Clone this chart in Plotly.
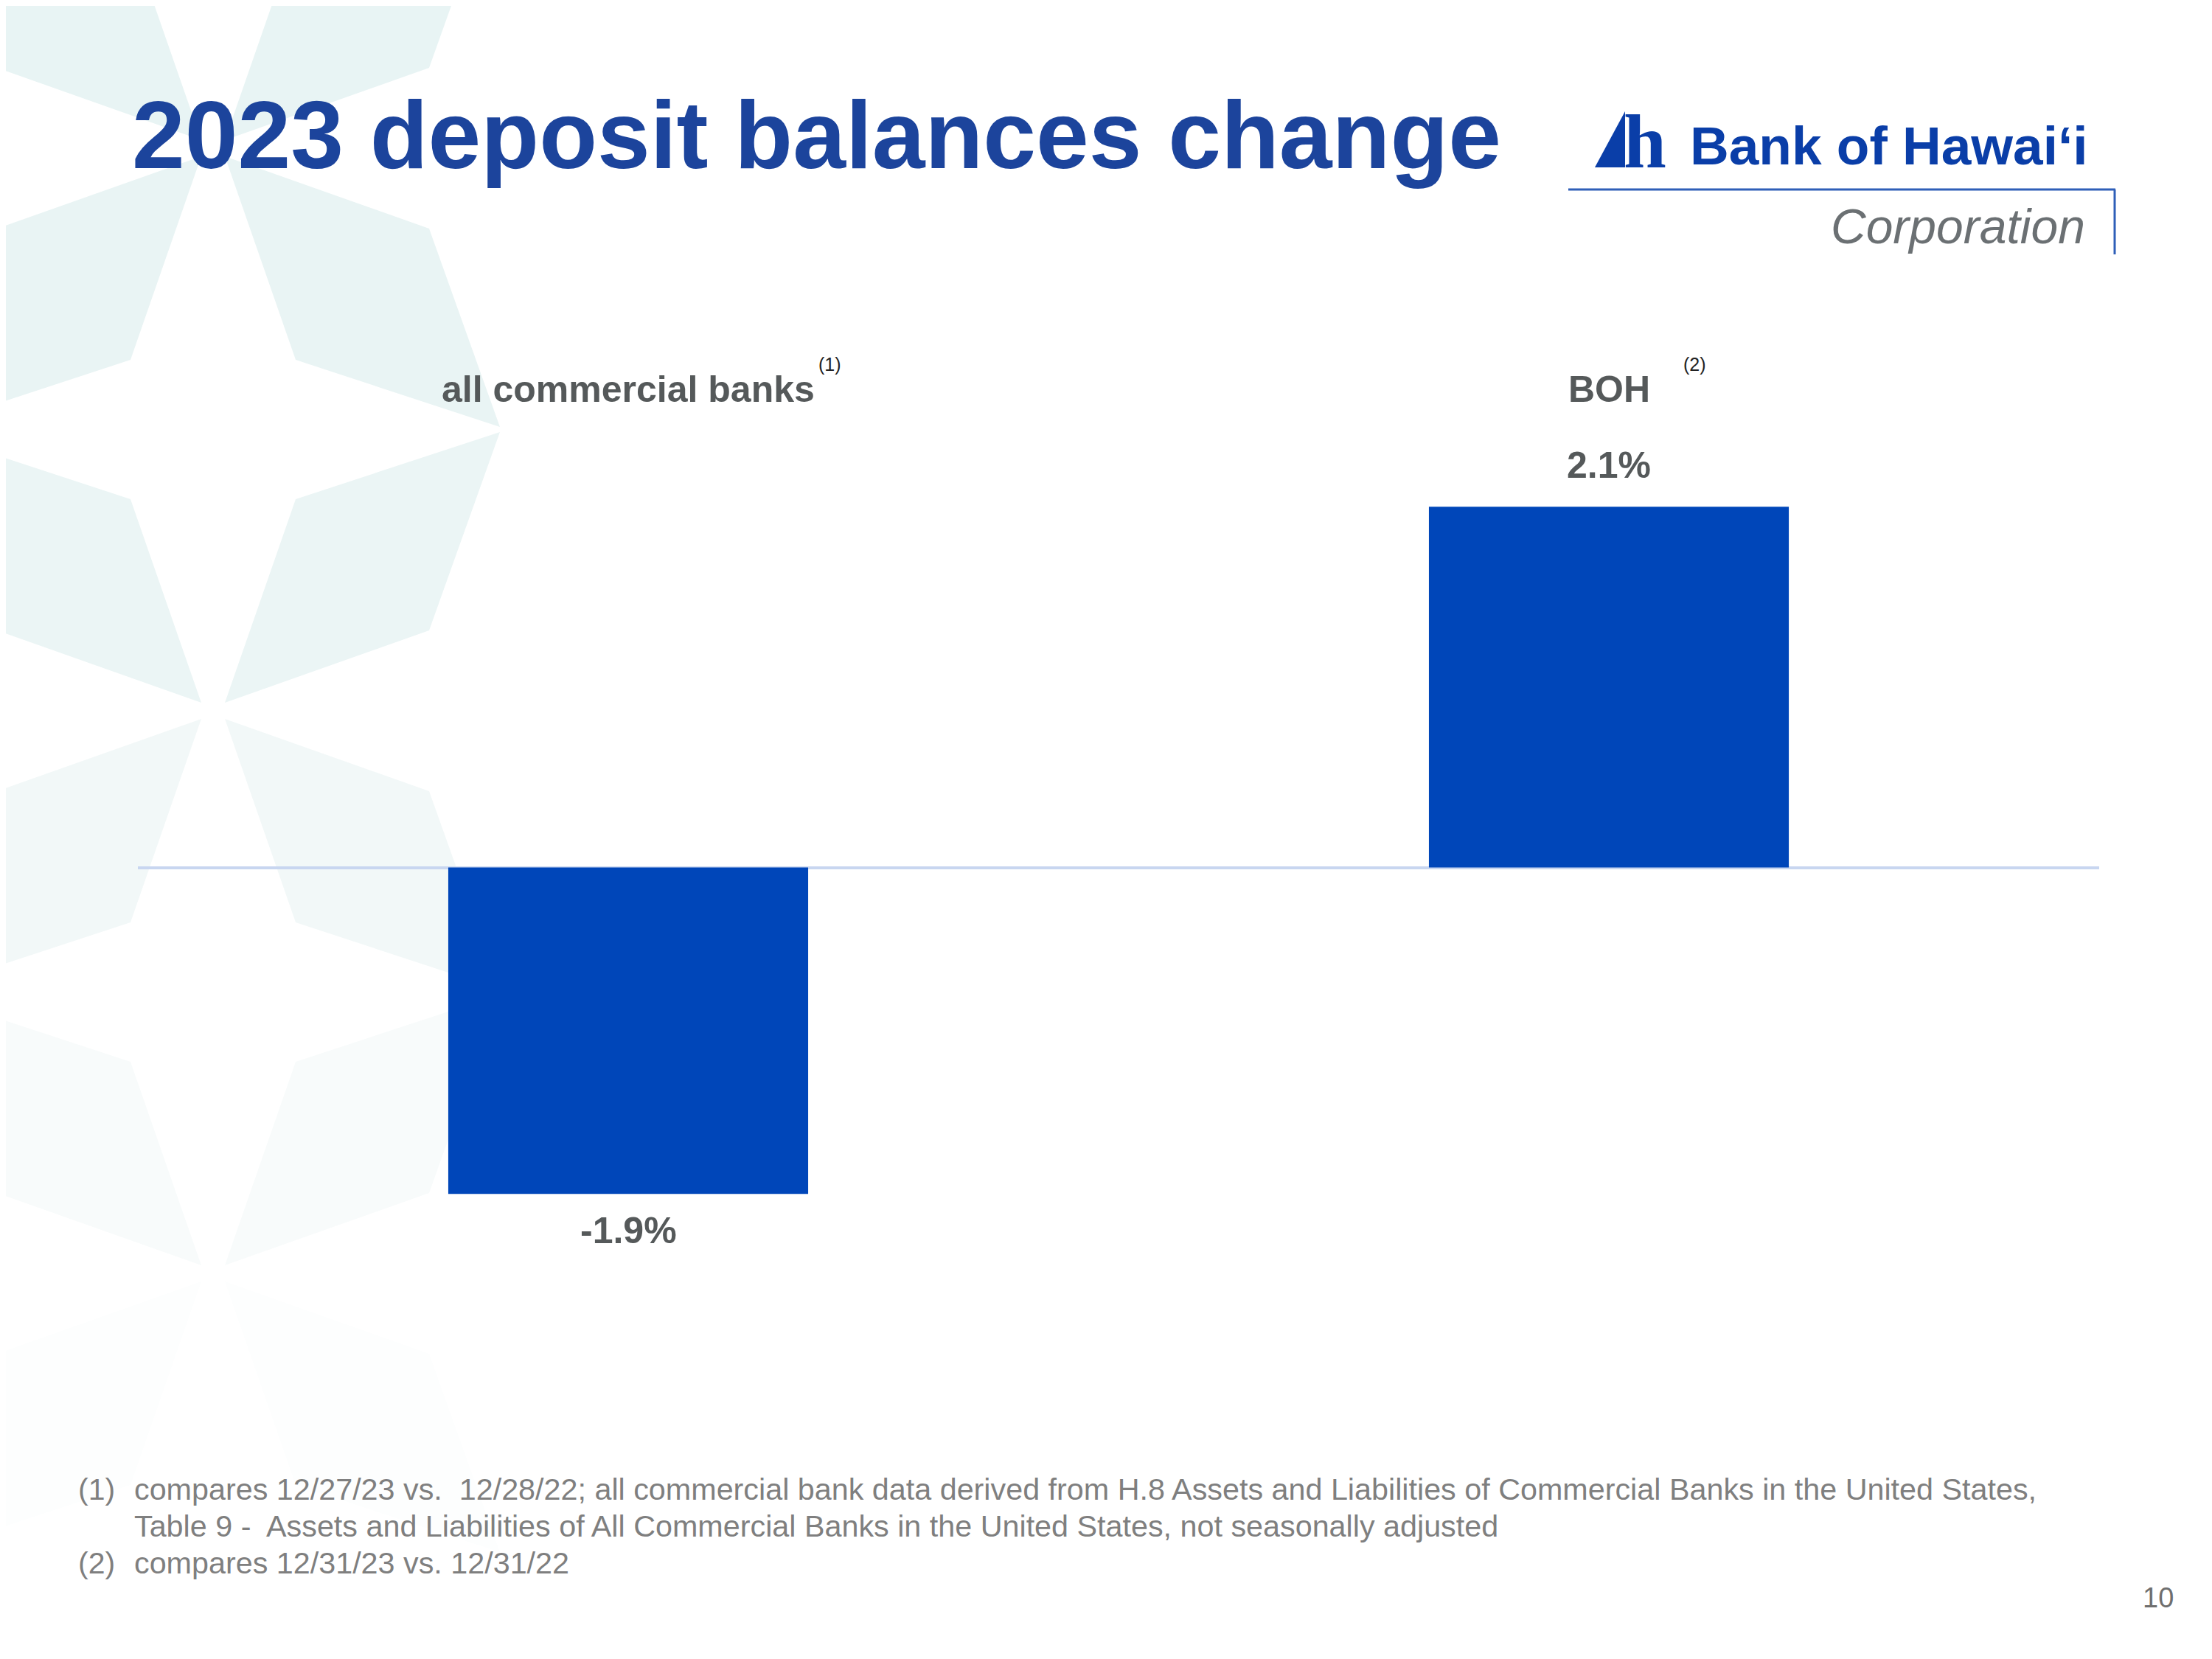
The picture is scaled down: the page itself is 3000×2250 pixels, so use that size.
import plotly.graph_objects as go

# data
categories = ["all commercial banks", "BOH"]
changes = [-1.9, 2.1]
value_labels = ["-1.9%", "2.1%"]
footnote_refs = ["(1)", "(2)"]
footnote_marks = ["(1)", "", "(2)"]
footnote_lines = [
    "compares 12/27/23 vs.  12/28/22; all commercial bank data derived from H.8 Assets and Liabilities of Commercial Banks in the United States,",
    "Table 9 -  Assets and Liabilities of All Commercial Banks in the United States, not seasonally adjusted",
    "compares 12/31/23 vs. 12/31/22",
]

W, H = 3000, 2250
OFF = 8                                 # page body margin of the html
PL, PR, PT, PB = 187, 2847, 431, 1922   # plot area in page pixels

FONT = "Liberation Sans, Arial, sans-serif"
BLUE_BAR = "#0046b9"
TITLE_BLUE = "#1c449c"
LOGO_BLUE = "#0a3ea8"
GRAY = "#55595a"
NOTE_GRAY = "#7f7f7f"


# page pixel -> paper (margins are 0)
def px(x):
    return (x - OFF) / W


def py(y):
    return 1 - (y - OFF) / H


def path_of(pts):
    return "M " + " L ".join(f"{px(x):.5f},{py(y):.5f}" for x, y in pts) + " Z"


def note(text, x, y, size, color, xanchor="left", family=FONT):
    return dict(text=text, x=px(x), y=py(y), xref="paper", yref="paper",
                xanchor=xanchor, yanchor="middle", showarrow=False,
                font=dict(family=family, size=size, color=color))


fig = go.Figure()
fig.add_trace(go.Bar(
    x=categories, y=changes,
    marker=dict(color=BLUE_BAR, line=dict(width=0)),
    width=0.367, hoverinfo="skip", showlegend=False,
))

shapes = []

# faint star pattern on the left side of the slide
petal = [(16, -11), (112, -287), (389, -378), (293, -109)]   # up-right petal
star_rows = [
    (289, 201, "#e8f4f4", "#e9f4f4"),
    (289, 964, "#ebf5f5", "#f2f8f8"),
    (289, 1727, "#f8fbfb", "#fdfefe"),
]
for cx, cy, up_col, down_col in star_rows:
    for sx in (1, -1):
        for sy in (1, -1):
            pts = [(cx + sx * dx, cy + sy * dy) for dx, dy in petal]
            shapes.append(dict(type="path", xref="paper", yref="paper", path=path_of(pts),
                               fillcolor=up_col if sy == 1 else down_col,
                               line=dict(width=0), layer="below"))

# logo decorations
shapes.append(dict(type="line", xref="paper", yref="paper",
                   x0=px(2127), x1=px(2869), y0=py(257), y1=py(257),
                   line=dict(color="#2f5fb8", width=3)))
shapes.append(dict(type="line", xref="paper", yref="paper",
                   x0=px(2868), x1=px(2868), y0=py(257), y1=py(345),
                   line=dict(color="#2f5fb8", width=3)))
shapes.append(dict(type="path", xref="paper", yref="paper",
                   path=path_of([(2163, 227), (2204, 151), (2204, 227)]),
                   fillcolor=LOGO_BLUE, line=dict(width=0)))

ann = []
# title
ann.append(note("<b>2023 deposit balances change</b>", 177, 184, 129, TITLE_BLUE))
# logo text
ann.append(note("<b>h</b>", 2200, 192, 104, LOGO_BLUE, family="Liberation Serif, serif"))
ann.append(note("<b>Bank of Hawai\u2018i</b>", 2290, 198, 73, LOGO_BLUE))
ann.append(note("<i>Corporation</i>", 2830, 307, 66, "#6b7073", xanchor="right"))

# category headers with reference marks
for cat in categories:
    ann.append(dict(text=f"<b>{cat}</b>", x=cat, xref="x", y=py(528), yref="paper",
                    xanchor="center", yanchor="middle", showarrow=False,
                    font=dict(family=FONT, size=50, color=GRAY)))
ref_x = [1125, 2298]
for ref, rx in zip(footnote_refs, ref_x):
    ann.append(note(ref, rx, 494, 25, "#222222", xanchor="center"))

# value labels from data
for cat, v, lab in zip(categories, changes, value_labels):
    ann.append(dict(text=f"<b>{lab}</b>", x=cat, y=v, xref="x", yref="y",
                    xanchor="center", yanchor="bottom" if v >= 0 else "top",
                    yshift=26 if v >= 0 else -20, showarrow=False,
                    font=dict(family=FONT, size=50, color=GRAY)))

# footnotes
line_y = [2020, 2070, 2120]
for mark, text, ly in zip(footnote_marks, footnote_lines, line_y):
    if mark:
        ann.append(note(mark, 104, ly, 41, NOTE_GRAY))
    ann.append(note(text, 180, ly, 41.3, NOTE_GRAY))
ann.append(note("10", 2950, 2167, 38, "#6f6f6f", xanchor="right"))

fig.update_layout(
    width=W, height=H,
    margin=dict(l=0, r=0, t=0, b=0),
    paper_bgcolor="white", plot_bgcolor="rgba(0,0,0,0)",
    shapes=shapes, annotations=ann,
    xaxis=dict(domain=[(PL - OFF) / W, (PR - OFF) / W], showticklabels=False, showgrid=False,
               zeroline=False, showline=False, ticks="", fixedrange=True),
    yaxis=dict(domain=[1 - (PB - OFF) / H, 1 - (PT - OFF) / H], range=[-3.2, 3.2],
               showticklabels=False, showgrid=False, zeroline=True,
               zerolinecolor="#c8d6f0", zerolinewidth=4, showline=False, ticks=""),
    showlegend=False,
)

fig.write_html("out.html")
